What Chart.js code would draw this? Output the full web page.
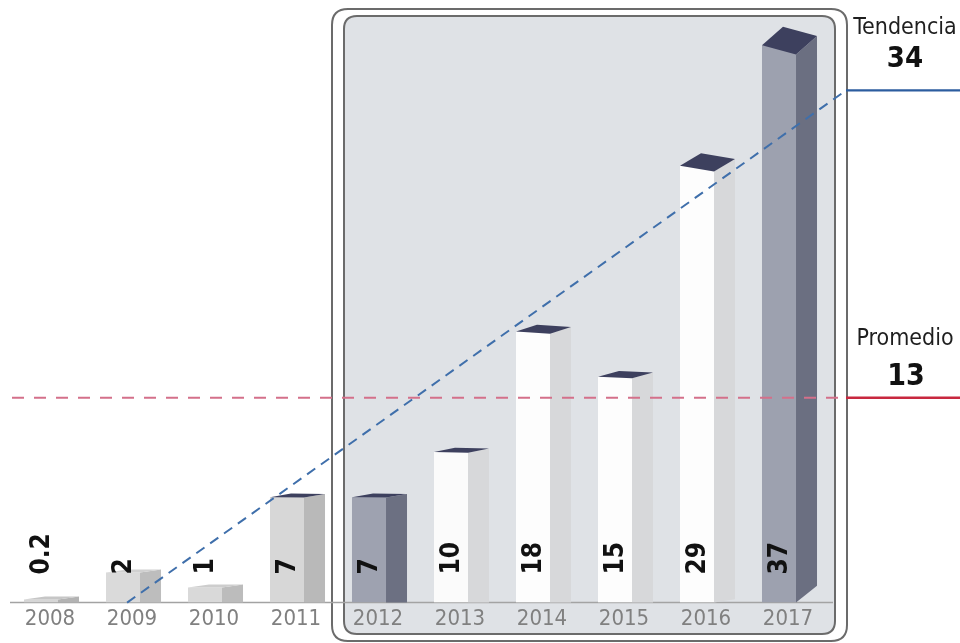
<!DOCTYPE html>
<html>
<head>
<meta charset="utf-8">
<script src="https://cdn.jsdelivr.net/npm/chart.js@4"></script>
<style>
  html, body { margin: 0; padding: 0; background: #ffffff; }
  #c { display: block; }
</style>
</head>
<body>
<canvas id="c" width="960" height="643"></canvas>
<script>
// ---- data ----
const years = ['2008', '2009', '2010', '2011', '2012', '2013', '2014', '2015', '2016', '2017'];
const values = [0.2, 2, 1, 7, 7, 10, 18, 15, 29, 37];
const valueLabels = ['0.2', '2', '1', '7', '7', '10', '18', '15', '29', '37'];
const promedioLabel = '13';
const promedioLevel = 13.6;      // where the dashed average line sits on the value axis
const tendenciaValue = 34;       // value the trend reaches at the label column
const trendStartIndex = 1.05;    // category position where the trend line leaves 0
const trendStartValue = 0;

// ---- styles ----
const FONT = "'Liberation Sans Narrow','DejaVu Sans Condensed','Arial Narrow',sans-serif";
const frontColors = ['#d6d6d6', '#dadada', '#d9d9d9', '#d7d7d7', '#9ea2b0', '#fbfbfb', '#fdfdfd', '#fdfdfd', '#fdfdfd', '#9da1af'];
const sideColors  = ['#b3b3b3', '#bdbdbd', '#bcbcbc', '#b9b9b9', '#6c7082', '#d7d8da', '#d7d8da', '#d7d8da', '#d7d8da', '#6b6f81'];
const topColors   = ['#c6c6c6', '#d0d0d0', '#cdcdcd', '#3d405e', '#3d405e', '#3d405e', '#3d405e', '#3d405e', '#3d405e', '#3d405e'];

function rr(ctx, x, y, w, h, r) {
  ctx.beginPath();
  ctx.moveTo(x + r, y);
  ctx.lineTo(x + w - r, y);
  ctx.quadraticCurveTo(x + w, y, x + w, y + r);
  ctx.lineTo(x + w, y + h - r);
  ctx.quadraticCurveTo(x + w, y + h, x + w - r, y + h);
  ctx.lineTo(x + r, y + h);
  ctx.quadraticCurveTo(x, y + h, x, y + h - r);
  ctx.lineTo(x, y + r);
  ctx.quadraticCurveTo(x, y, x + r, y);
  ctx.closePath();
}

const deco = {
  id: 'deco',
  beforeDraw(chart) {
    const ctx = chart.ctx;
    const xs = chart.scales.x;
    const c12 = xs.getPixelForValue(4);
    const c17 = xs.getPixelForValue(9);
    ctx.save();
    // outer rounded frame
    rr(ctx, c12 - 37, 9, (c17 + 68) - (c12 - 37), 632, 16);
    ctx.fillStyle = '#ffffff';
    ctx.fill();
    ctx.lineWidth = 2;
    ctx.strokeStyle = '#6b6b6b';
    ctx.stroke();
    // inner panel
    rr(ctx, c12 - 25, 16, (c17 + 56) - (c12 - 25), 618, 13);
    ctx.fillStyle = '#dfe2e6';
    ctx.fill();
    ctx.lineWidth = 2;
    ctx.strokeStyle = '#6b6b6b';
    ctx.stroke();
    ctx.restore();
  },
  beforeDatasetsDraw(chart) {
    const ctx = chart.ctx;
    const xs = chart.scales.x;
    const ys = chart.scales.y;
    const c17 = xs.getPixelForValue(9);
    const yb = ys.getPixelForValue(0);
    ctx.save();
    ctx.strokeStyle = '#a3a3a3';
    ctx.lineWidth = 1.5;
    ctx.beginPath();
    ctx.moveTo(10, yb);
    ctx.lineTo(c17 + 54, yb);
    ctx.stroke();
    ctx.restore();
  },
  afterDatasetsDraw(chart) {
    const ctx = chart.ctx;
    const xs = chart.scales.x;
    const ys = chart.scales.y;
    const meta = chart.getDatasetMeta(0);
    ctx.save();
    // 3D side and top faces
    meta.data.forEach((el, i) => {
      const p = el.getProps(['x', 'y', 'base', 'width'], true);
      const xl = p.x - p.width / 2;
      const xr = p.x + p.width / 2;
      const h = p.base - p.y;
      const dx = 21;
      const s = 0.00003 * h * h;
      const dy = 3 + 0.00005 * h * h;
      const lift = xr > 600 ? 17 * Math.pow((xr - 600) / 197, 3) : 0;
      ctx.fillStyle = sideColors[i];
      ctx.beginPath();
      ctx.moveTo(xr, p.y + s);
      ctx.lineTo(xr + dx, p.y + s - dy);
      ctx.lineTo(xr + dx, p.base - lift);
      ctx.lineTo(xr, p.base);
      ctx.closePath();
      ctx.fill();
      ctx.fillStyle = topColors[i];
      ctx.beginPath();
      ctx.moveTo(xl, p.y);
      ctx.lineTo(xr, p.y + s);
      ctx.lineTo(xr + dx, p.y + s - dy);
      ctx.lineTo(xl + dx, p.y - dy);
      ctx.closePath();
      ctx.fill();
    });

    const c17 = xs.getPixelForValue(9);
    const xEnd = c17 + 67;
    const W = chart.width;

    // average line
    const yP = ys.getPixelForValue(promedioLevel);
    ctx.setLineDash([12, 10]);
    ctx.strokeStyle = '#d4708a';
    ctx.lineWidth = 2;
    ctx.beginPath();
    ctx.moveTo(12, yP);
    ctx.lineTo(xEnd, yP);
    ctx.stroke();
    ctx.setLineDash([]);
    ctx.strokeStyle = '#c8283f';
    ctx.lineWidth = 2.5;
    ctx.beginPath();
    ctx.moveTo(xEnd, yP);
    ctx.lineTo(W, yP);
    ctx.stroke();

    // trend line
    const x0 = xs.getPixelForValue(trendStartIndex);
    const y0 = ys.getPixelForValue(trendStartValue);
    const yT = ys.getPixelForValue(tendenciaValue);
    ctx.setLineDash([10, 7]);
    ctx.strokeStyle = '#3f6fab';
    ctx.lineWidth = 2;
    ctx.beginPath();
    ctx.moveTo(x0, y0);
    ctx.lineTo(xEnd, yT);
    ctx.stroke();
    ctx.setLineDash([]);
    ctx.strokeStyle = '#2c5d9f';
    ctx.lineWidth = 2.2;
    ctx.beginPath();
    ctx.moveTo(xEnd, yT);
    ctx.lineTo(W, yT);
    ctx.stroke();

    // value labels (rotated)
    ctx.fillStyle = '#111111';
    ctx.font = 'bold 26px ' + FONT;
    ctx.textAlign = 'left';
    ctx.textBaseline = 'middle';
    meta.data.forEach((el, i) => {
      ctx.save();
      ctx.translate(el.x, ys.getPixelForValue(0) - 28);
      ctx.rotate(-Math.PI / 2);
      ctx.fillText(valueLabels[i], 0, 1);
      ctx.restore();
    });

    // right-hand labels
    const cx = 905;
    ctx.textAlign = 'center';
    ctx.textBaseline = 'alphabetic';
    ctx.fillStyle = '#1e1e1e';
    ctx.font = '23px ' + FONT;
    ctx.fillText('Tendencia', cx, yT - 56);
    ctx.fillText('Promedio', cx, yP - 53);
    ctx.fillStyle = '#111111';
    ctx.font = 'bold 29px ' + FONT;
    ctx.fillText(String(tendenciaValue), cx, yT - 23);
    ctx.font = 'bold 30px ' + FONT;
    ctx.fillText(promedioLabel, cx + 1, yP - 13);
    ctx.restore();
  }
};

new Chart(document.getElementById('c'), {
  type: 'bar',
  data: {
    labels: years,
    datasets: [{
      data: values,
      backgroundColor: frontColors,
      borderWidth: 0,
      barPercentage: 0.415,
      categoryPercentage: 1.0
    }]
  },
  options: {
    responsive: false,
    animation: false,
    devicePixelRatio: 1,
    layout: { padding: { left: 0, right: 140, top: 0, bottom: 8 } },
    plugins: { legend: { display: false }, tooltip: { enabled: false } },
    scales: {
      x: {
        grid: { display: false, drawTicks: false },
        border: { display: false },
        ticks: {
          color: '#808080',
          font: { family: FONT, size: 22 },
          labelOffset: 9,
          padding: 3,
          maxRotation: 0,
          autoSkip: false
        }
      },
      y: {
        display: false,
        min: 0,
        max: 40
      }
    }
  },
  plugins: [deco]
});
</script>
</body>
</html>
